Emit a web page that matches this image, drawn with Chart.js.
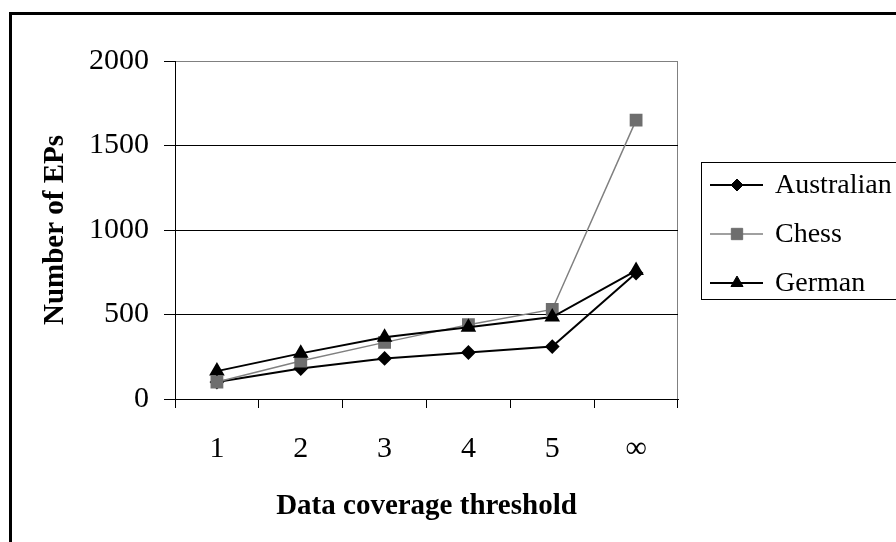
<!DOCTYPE html>
<html>
<head>
<meta charset="utf-8">
<script src="https://cdn.jsdelivr.net/npm/chart.js@4"></script>
<style>
  html, body { margin: 0; padding: 0; background: #fff; overflow: hidden; }
  #frame { position: absolute; left: 9px; top: 12px; width: 1000px; height: 1000px; border: 3px solid #000; }
  #wrap { position: absolute; left: 0; top: 0; width: 896px; height: 542px; }
</style>
</head>
<body>
<div id="frame"></div>
<div id="wrap"><canvas id="chart" width="896" height="542"></canvas></div>
<script>
const thresholds = ['1', '2', '3', '4', '5', '\u221E'];
const australian = [100, 180, 240, 275, 310, 745];
const chess = [100, 225, 335, 440, 530, 1650];
const german = [165, 270, 365, 425, 485, 760];

const serif = "'Liberation Serif', 'Times New Roman', serif";

// legend with line + marker samples, like the original
const sideLegend = {
    id: 'sideLegend',
    afterDraw(chart) {
        const ctx = chart.ctx;
        ctx.save();
        ctx.strokeStyle = '#000';
        ctx.lineWidth = 1;
        ctx.strokeRect(701.5, 162.5, 200, 137);
        const rows = [185, 234, 283];
        ctx.font = '28px ' + serif;
        ctx.textBaseline = 'middle';
        chart.data.datasets.forEach((ds, i) => {
            const y = rows[i];
            ctx.strokeStyle = ds.borderColor;
            ctx.lineWidth = ds.borderWidth;
            ctx.beginPath();
            ctx.moveTo(710, y);
            ctx.lineTo(763, y);
            ctx.stroke();
            ctx.fillStyle = ds.pointBackgroundColor;
            ctx.strokeStyle = ds.pointBorderColor;
            ctx.lineWidth = 1;
            Chart.helpers.drawPoint(ctx, { pointStyle: ds.pointStyle, rotation: 0, radius: ds.pointRadius, borderWidth: 1 }, 737, y);
            ctx.fillStyle = '#000';
            ctx.fillText(ds.label, 775, y + 1);
        });
        ctx.restore();
    }
};

new Chart(document.getElementById('chart'), {
    type: 'line',
    data: {
        labels: thresholds,
        datasets: [
            {
                label: 'Australian',
                data: australian,
                borderColor: '#000',
                borderWidth: 2,
                pointStyle: 'rectRot',
                pointRadius: 6,
                pointBackgroundColor: '#000',
                pointBorderColor: '#000',
                order: 3
            },
            {
                label: 'Chess',
                data: chess,
                borderColor: '#808080',
                borderWidth: 1.5,
                pointStyle: 'rect',
                pointRadius: 8,
                pointBackgroundColor: '#6e6e6e',
                pointBorderColor: '#6e6e6e',
                order: 2
            },
            {
                label: 'German',
                data: german,
                borderColor: '#000',
                borderWidth: 2,
                pointStyle: 'triangle',
                pointRadius: 7,
                pointBackgroundColor: '#000',
                pointBorderColor: '#000',
                order: 1
            }
        ]
    },
    options: {
        responsive: false,
        animation: false,
        layout: { padding: { left: 0, top: 61, right: 218, bottom: 0 } },
        plugins: {
            legend: { display: false },
            tooltip: { enabled: false }
        },
        scales: {
            x: {
                offset: true,
                afterFit: s => { s.height = 143; },
                grid: {
                    offset: true,
                    // only the closing line on the right is shown (grey plot border)
                    color: c => c.tick ? 'rgba(0,0,0,0)' : '#808080',
                    tickColor: '#000',
                    tickLength: 9,
                    lineWidth: 1
                },
                border: { display: true, color: '#000', width: 1 },
                ticks: {
                    color: '#000',
                    padding: 23,
                    maxRotation: 0,
                    font: { family: serif, size: 30 }
                },
                title: {
                    display: true,
                    text: 'Data coverage threshold',
                    color: '#000',
                    padding: { top: 0, bottom: 18 },
                    font: { family: serif, size: 29, weight: 'bold' }
                }
            },
            y: {
                min: 0,
                max: 2000,
                afterFit: s => { s.width = 175; },
                grid: {
                    color: c => c.tick && c.tick.value === 2000 ? '#808080' : '#000',
                    tickColor: '#000',
                    tickLength: 11,
                    lineWidth: 1
                },
                border: { display: true, color: '#000', width: 1 },
                ticks: {
                    stepSize: 500,
                    color: '#000',
                    padding: 15,
                    font: { family: serif, size: 30 },
                    callback: v => String(v)
                },
                title: {
                    display: true,
                    text: 'Number of EPs',
                    color: '#000',
                    padding: { top: 38, bottom: 0 },
                    font: { family: serif, size: 29, weight: 'bold' }
                }
            }
        }
    },
    plugins: [sideLegend]
});
</script>
</body>
</html>
